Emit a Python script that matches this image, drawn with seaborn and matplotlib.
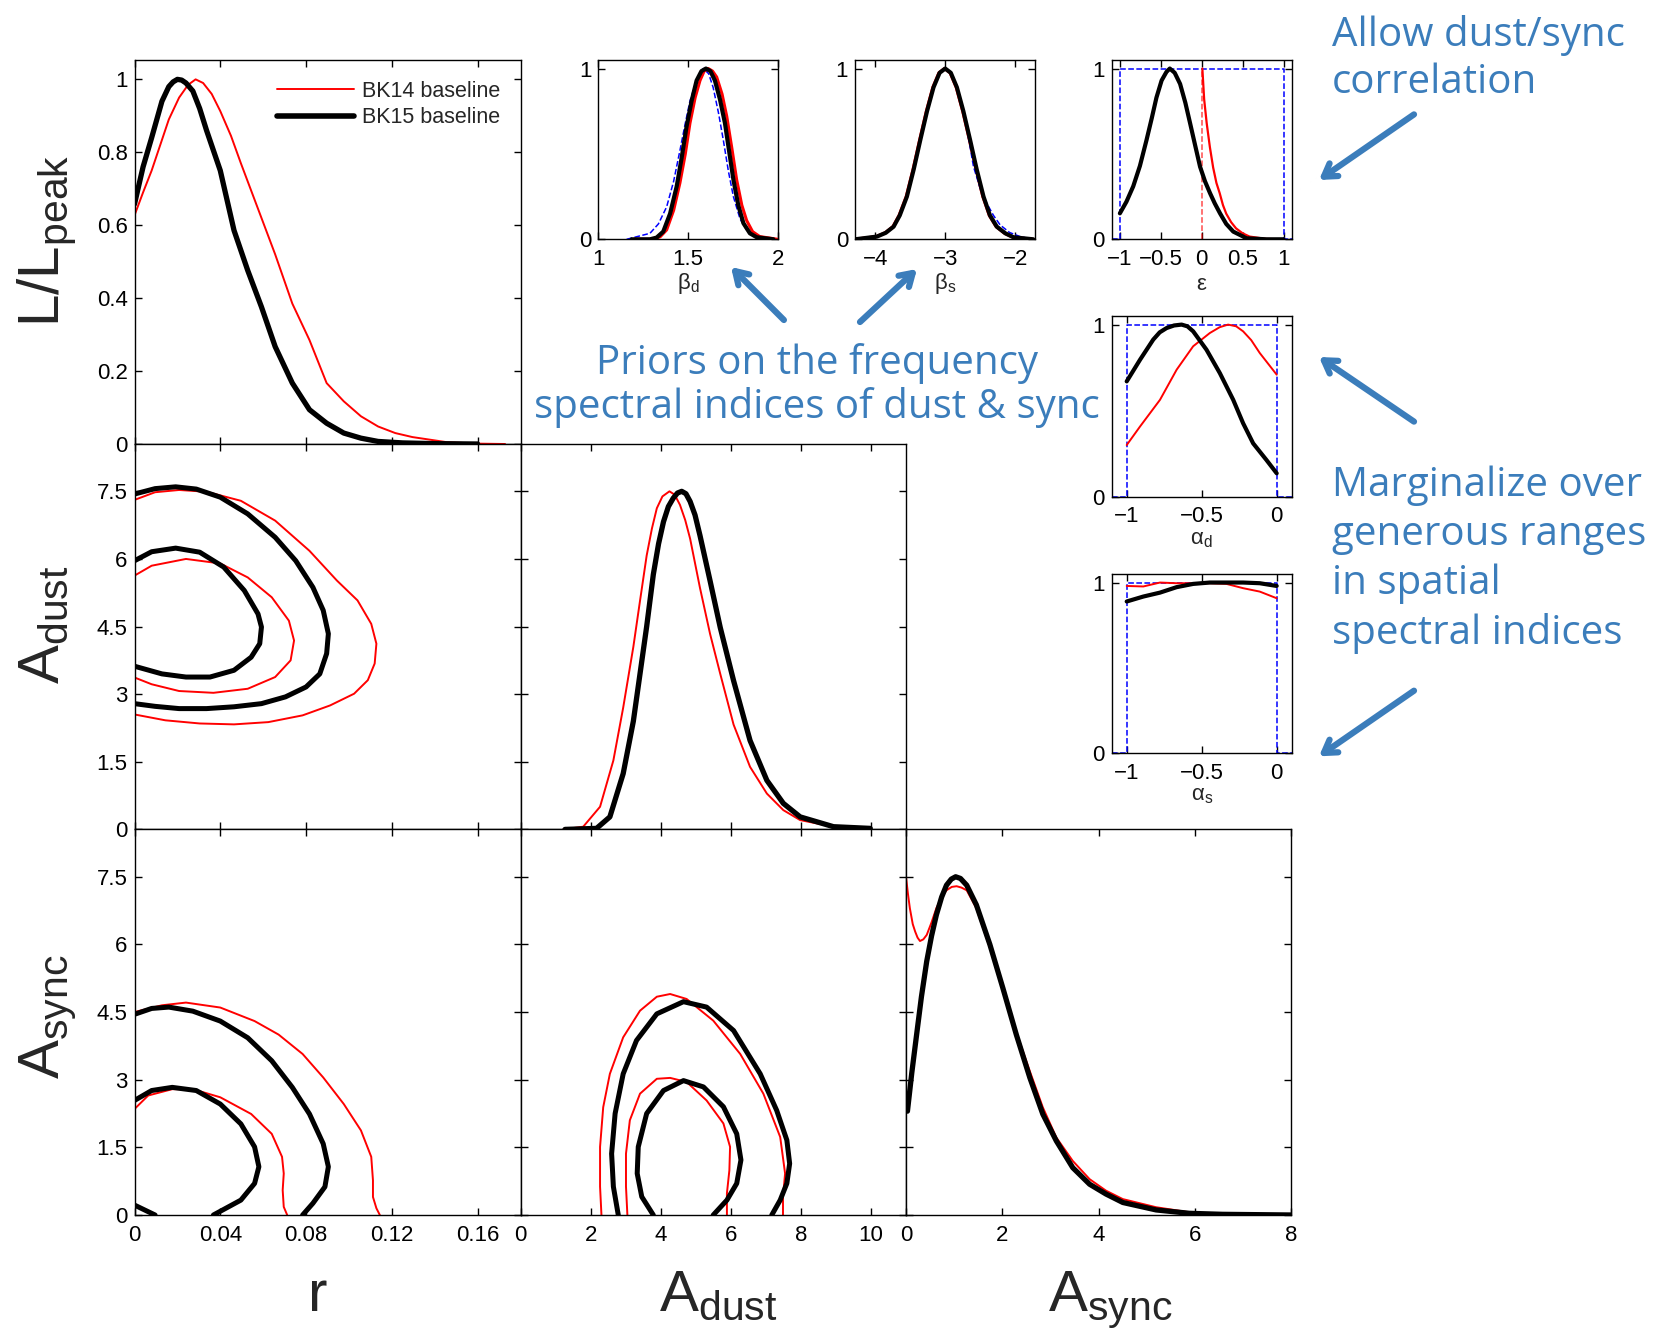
import matplotlib
matplotlib.use("Agg")
import matplotlib.pyplot as plt
from matplotlib.lines import Line2D
import seaborn as sns

W, H = 1661, 1332

# ---------------- data ----------------
# 1D likelihood of r (normalised to peak)
r_bk14 = [0, 0.004, 0.008, 0.012, 0.016, 0.0208, 0.025, 0.0285, 0.032, 0.036, 0.04, 0.045,
          0.0496, 0.0544, 0.0592, 0.0656, 0.0736, 0.0816, 0.0896, 0.0976, 0.1056, 0.1136,
          0.1216, 0.1296, 0.1456, 0.16, 0.1728]
L_r_bk14 = [0.627, 0.69, 0.75, 0.82, 0.89, 0.95, 0.985, 1.0, 0.99, 0.96, 0.913, 0.845,
            0.77, 0.695, 0.62, 0.52, 0.385, 0.285, 0.167, 0.117, 0.076, 0.048,
            0.03, 0.019, 0.005, 0.001, 0.0]
r_bk15 = [0, 0.004, 0.008, 0.0128, 0.016, 0.018, 0.02, 0.022, 0.024, 0.0272, 0.0304, 0.0336,
          0.04, 0.0464, 0.0528, 0.0592, 0.0656, 0.0736, 0.0816, 0.0896, 0.0976, 0.1056, 0.1136,
          0.125, 0.14, 0.16]
L_r_bk15 = [0.658, 0.76, 0.84, 0.94, 0.98, 0.993, 1.0, 0.998, 0.99, 0.968, 0.92, 0.86,
            0.75, 0.586, 0.476, 0.376, 0.267, 0.167, 0.094, 0.057, 0.03, 0.016, 0.007,
            0.003, 0.001, 0.0]

# 1D likelihood of A_dust
Ad_bk14 = [1.22, 1.79, 2.27, 2.65, 2.93, 3.22, 3.41, 3.6, 3.75, 3.89, 4.05, 4.25, 4.4, 4.55,
           4.7, 4.84, 5.12, 5.41, 5.7, 6.08, 6.55, 7.03, 7.5, 7.98, 8.93, 9.98]
L_Ad_bk14 = [0, 0.008, 0.067, 0.204, 0.36, 0.54, 0.676, 0.81, 0.89, 0.95, 0.985, 1.0, 0.99,
             0.96, 0.915, 0.86, 0.715, 0.578, 0.46, 0.31, 0.185, 0.106, 0.057, 0.0275, 0.008, 0.0]
Ad_bk15 = [1.27, 2.17, 2.55, 2.93, 3.22, 3.41, 3.6, 3.79, 3.94, 4.08, 4.22, 4.36, 4.48, 4.6,
           4.72, 4.84, 4.98, 5.12, 5.41, 5.7, 6.08, 6.55, 7.03, 7.5, 7.98, 8.93, 9.98]
L_Ad_bk15 = [0, 0.003, 0.037, 0.165, 0.32, 0.46, 0.6, 0.754, 0.845, 0.91, 0.955, 0.98, 0.995,
             1.0, 0.993, 0.97, 0.93, 0.87, 0.735, 0.597, 0.44, 0.263, 0.145, 0.077, 0.037,
             0.008, 0.003]

# 1D likelihood of A_sync
As_bk14 = [0.0, 0.04, 0.08, 0.14, 0.19, 0.24, 0.29, 0.36, 0.43, 0.53, 0.63, 0.74, 0.84, 0.95,
           1.05, 1.15, 1.26, 1.46, 1.74, 2.01, 2.29, 2.57, 2.84, 3.12, 3.46, 3.81, 4.15, 4.5,
           5.19, 5.88, 6.57, 8.0]
L_As_bk14 = [1.0, 0.95, 0.907, 0.86, 0.838, 0.82, 0.81, 0.815, 0.828, 0.865, 0.907, 0.94,
             0.96, 0.97, 0.972, 0.968, 0.96, 0.907, 0.79, 0.67, 0.54, 0.425, 0.318, 0.229,
             0.16, 0.106, 0.072, 0.047, 0.023, 0.008, 0.003, 0.0]
As_bk15 = [0.03, 0.12, 0.22, 0.32, 0.43, 0.53, 0.63, 0.74, 0.84, 0.94, 1.03, 1.13, 1.26, 1.46,
           1.74, 2.01, 2.29, 2.57, 2.84, 3.12, 3.46, 3.81, 4.15, 4.5, 5.19, 5.88, 6.57, 8.0]
L_As_bk15 = [0.307, 0.42, 0.533, 0.645, 0.75, 0.825, 0.887, 0.94, 0.975, 0.993, 1.0, 0.995,
             0.975, 0.917, 0.8, 0.671, 0.533, 0.406, 0.298, 0.219, 0.14, 0.091, 0.062, 0.037,
             0.015, 0.005, 0.002, 0.0]

# 2D contours (68% / 95%), r vs A_dust
rAd_bk15_in_r = [0, 0.008, 0.0192, 0.0304, 0.0416, 0.0512, 0.0576, 0.0592, 0.0584, 0.0544, 0.0464,
                 0.0352, 0.024, 0.0128, 0]
rAd_bk15_in_A = [5.96, 6.16, 6.24, 6.15, 5.82, 5.3, 4.78, 4.49, 4.12, 3.82, 3.53, 3.38, 3.38, 3.45, 3.62]
rAd_bk15_out_r = [0, 0.0096, 0.0192, 0.0288, 0.04, 0.0528, 0.0656, 0.0752, 0.0832, 0.088, 0.0904,
                  0.0896, 0.0864, 0.08, 0.0704, 0.0592, 0.0464, 0.0336, 0.0208, 0.0096, 0]
rAd_bk15_out_A = [7.44, 7.56, 7.6, 7.55, 7.37, 7.0, 6.48, 5.96, 5.37, 4.86, 4.34, 3.9, 3.45, 3.16,
                  2.94, 2.79, 2.72, 2.68, 2.68, 2.73, 2.79]
rAd_bk14_in_r = [0, 0.008, 0.024, 0.04, 0.0528, 0.064, 0.072, 0.0744, 0.0728, 0.0656, 0.0528,
                 0.0368, 0.0208, 0.008, 0]
rAd_bk14_in_A = [5.63, 5.85, 6.0, 5.9, 5.59, 5.15, 4.63, 4.19, 3.75, 3.38, 3.12, 3.03, 3.07, 3.22, 3.37]
rAd_bk14_out_r = [0, 0.0096, 0.0208, 0.0336, 0.0496, 0.0656, 0.0816, 0.0944, 0.104, 0.1104, 0.1128,
                  0.112, 0.1088, 0.1024, 0.0912, 0.0784, 0.0624, 0.0464, 0.0304, 0.0144, 0]
rAd_bk14_out_A = [7.31, 7.48, 7.53, 7.49, 7.29, 6.85, 6.18, 5.52, 5.08, 4.56, 4.12, 3.68, 3.31, 3.01,
                  2.75, 2.53, 2.38, 2.33, 2.35, 2.42, 2.55]

# r vs A_sync
rAs_bk15_out_r = [0, 0.008, 0.016, 0.0272, 0.04, 0.0528, 0.064, 0.0736, 0.0816, 0.088, 0.0904,
                  0.0888, 0.0832, 0.0784]
rAs_bk15_out_A = [4.45, 4.58, 4.61, 4.52, 4.3, 3.93, 3.42, 2.83, 2.24, 1.58, 1.07, 0.625, 0.26, 0]
rAs_bk15_in_r = [0, 0.008, 0.0176, 0.0288, 0.04, 0.0496, 0.056, 0.058, 0.056, 0.0496, 0.0368]
rAs_bk15_in_A = [2.54, 2.76, 2.83, 2.76, 2.46, 2.02, 1.51, 1.07, 0.7, 0.33, 0]
rAs_bk15_corner_r = [0, 0.0096]
rAs_bk15_corner_A = [0.22, 0]
rAs_bk14_out_r = [0, 0.0128, 0.024, 0.04, 0.056, 0.0672, 0.0784, 0.088, 0.0976, 0.1056, 0.1104,
                  0.1112, 0.1112, 0.1128, 0.1144]
rAs_bk14_out_A = [4.5, 4.65, 4.71, 4.6, 4.3, 4.0, 3.57, 3.05, 2.46, 1.875, 1.29, 0.77, 0.4, 0.15, 0]
rAs_bk14_in_r = [0, 0.0064, 0.0176, 0.0272, 0.04, 0.0544, 0.064, 0.0688, 0.0696, 0.0691, 0.0696, 0.0712]
rAs_bk14_in_A = [2.35, 2.65, 2.79, 2.79, 2.61, 2.24, 1.8, 1.29, 0.92, 0.55, 0.18, 0]

# A_dust vs A_sync
AA_bk15_out_d = [2.79, 2.65, 2.6, 2.7, 2.93, 3.31, 3.89, 4.65, 5.31, 6.08, 6.84, 7.31, 7.6, 7.68,
                 7.6, 7.41, 7.17]
AA_bk15_out_s = [0, 0.63, 1.36, 2.25, 3.13, 3.87, 4.46, 4.73, 4.61, 4.09, 3.13, 2.32, 1.66, 1.14,
                 0.7, 0.33, 0]
AA_bk15_in_d = [3.79, 3.46, 3.33, 3.36, 3.6, 4.08, 4.65, 5.22, 5.79, 6.17, 6.29, 6.17, 5.89, 5.5]
AA_bk15_in_s = [0, 0.405, 0.92, 1.51, 2.25, 2.76, 2.98, 2.84, 2.4, 1.8, 1.22, 0.7, 0.33, 0]
AA_bk14_out_d = [2.31, 2.27, 2.27, 2.36, 2.55, 2.93, 3.41, 3.89, 4.27, 4.74, 5.5, 6.27, 6.93, 7.41,
                 7.55, 7.49, 7.49]
AA_bk14_out_s = [0, 0.63, 1.51, 2.39, 3.13, 3.94, 4.53, 4.84, 4.9, 4.79, 4.31, 3.57, 2.69, 1.73,
                 0.92, 0.405, 0]
AA_bk14_in_d = [3.05, 3.01, 3.01, 3.12, 3.41, 3.89, 4.27, 4.74, 5.31, 5.79, 5.98, 5.96, 5.89, 5.89]
AA_bk14_in_s = [0, 0.63, 1.36, 2.1, 2.69, 3.02, 3.04, 2.95, 2.54, 2.03, 1.51, 0.99, 0.48, 0]

# inset: beta_d
bd_prior_x = [1.158, 1.288, 1.335, 1.381, 1.42, 1.455, 1.485, 1.511, 1.55, 1.585, 1.615, 1.64,
              1.67, 1.697, 1.725, 1.753, 1.79, 1.827, 1.9, 1.99]
bd_prior_y = [0, 0.035, 0.09, 0.19, 0.34, 0.52, 0.68, 0.81, 0.94, 1.0, 0.97, 0.89, 0.74, 0.58,
              0.4, 0.25, 0.12, 0.055, 0.006, 0]
bd_bk14_x = [1.2, 1.307, 1.345, 1.381, 1.42, 1.455, 1.485, 1.511, 1.54, 1.567, 1.59, 1.613,
             1.637, 1.66, 1.69, 1.716, 1.745, 1.771, 1.8, 1.827, 1.86, 1.9, 2.0]
bd_bk14_y = [0, 0.0, 0.015, 0.055, 0.17, 0.33, 0.5, 0.68, 0.83, 0.93, 0.985, 1.0, 0.985, 0.95,
             0.85, 0.72, 0.53, 0.35, 0.2, 0.11, 0.045, 0.016, 0]
bd_bk15_x = [1.186, 1.288, 1.325, 1.362, 1.4, 1.437, 1.465, 1.492, 1.52, 1.548, 1.575, 1.6,
             1.625, 1.65, 1.678, 1.706, 1.73, 1.753, 1.78, 1.809, 1.845, 1.883, 1.976]
bd_bk15_y = [0, 0, 0.01, 0.045, 0.15, 0.31, 0.48, 0.66, 0.81, 0.93, 0.985, 1.0, 0.985, 0.93,
             0.82, 0.68, 0.51, 0.35, 0.2, 0.094, 0.035, 0.012, 0]

# inset: beta_s
bs_prior_x = [-4.29, -3.976, -3.85, -3.738, -3.65, -3.548, -3.45, -3.357, -3.26, -3.167, -3.08,
              -3.0, -2.92, -2.833, -2.72, -2.595, -2.5, -2.405, -2.31, -2.214, -2.08, -1.93, -1.75]
bs_prior_y = [0, 0.016, 0.038, 0.074, 0.14, 0.25, 0.41, 0.58, 0.75, 0.89, 0.975, 1.0, 0.975,
              0.9, 0.72, 0.425, 0.3, 0.21, 0.14, 0.084, 0.04, 0.016, 0]
bs_bk14_x = [-4.29, -3.986, -3.86, -3.748, -3.66, -3.558, -3.46, -3.367, -3.27, -3.177, -3.09,
             -3.01, -2.93, -2.843, -2.75, -2.653, -2.56, -2.462, -2.37, -2.272, -2.15, -2.034, -1.74]
bs_bk14_y = [0, 0.016, 0.038, 0.074, 0.14, 0.25, 0.41, 0.58, 0.75, 0.89, 0.975, 1.0, 0.975,
             0.89, 0.75, 0.58, 0.41, 0.25, 0.14, 0.074, 0.035, 0.012, 0]
bs_bk15_x = [-4.29, -3.976, -3.85, -3.738, -3.65, -3.548, -3.45, -3.357, -3.26, -3.167, -3.08,
             -3.0, -2.92, -2.833, -2.74, -2.643, -2.55, -2.452, -2.36, -2.262, -2.14, -2.024, -1.74]
bs_bk15_y = [0, 0.016, 0.038, 0.074, 0.14, 0.25, 0.41, 0.58, 0.75, 0.89, 0.975, 1.0, 0.975,
             0.89, 0.75, 0.58, 0.41, 0.25, 0.14, 0.074, 0.035, 0.012, 0]

# inset: epsilon
eps_prior_x = [-1.1, -1, -1, 1, 1, 1.1]
eps_prior_y = [0, 0, 1, 1, 0, 0]
eps_bk14_prior_x = [0, 0]
eps_bk14_prior_y = [0, 1]
eps_bk14_x = [0.008, 0.03, 0.061, 0.1, 0.14, 0.18, 0.22, 0.26, 0.3, 0.36, 0.42, 0.5, 0.585,
              0.79, 1.0]
eps_bk14_y = [1.0, 0.82, 0.68, 0.54, 0.42, 0.33, 0.27, 0.2, 0.15, 0.1, 0.064, 0.035, 0.016,
              0.002, 0]
eps_bk15_x = [-1, -0.92, -0.837, -0.755, -0.675, -0.61, -0.553, -0.49, -0.431, -0.39, -0.33,
              -0.264, -0.2, -0.142, -0.08, -0.02, 0.04, 0.102, 0.16, 0.224, 0.3, 0.386, 0.549,
              0.79, 1.0]
eps_bk15_y = [0.152, 0.22, 0.31, 0.43, 0.58, 0.71, 0.83, 0.93, 0.98, 1.0, 0.975, 0.91, 0.8,
              0.68, 0.55, 0.425, 0.34, 0.27, 0.21, 0.152, 0.09, 0.045, 0.006, 0, 0]

# inset: alpha_d
alpha_prior_x = [-1.1, -1, -1, 0, 0, 0.1]
alpha_prior_y = [0, 0, 1, 1, 0, 0]
ad_bk14_x = [-1, -0.911, -0.778, -0.667, -0.557, -0.446, -0.38, -0.324, -0.27, -0.224, -0.17,
             -0.113, 0]
ad_bk14_y = [0.3, 0.408, 0.563, 0.738, 0.874, 0.951, 0.985, 1.0, 0.99, 0.961, 0.91, 0.835, 0.709]
ad_bk15_x = [-1, -0.911, -0.823, -0.78, -0.734, -0.684, -0.634, -0.595, -0.557, -0.468, -0.379,
             -0.29, -0.224, -0.157, -0.069, 0]
ad_bk15_y = [0.67, 0.796, 0.913, 0.955, 0.98, 0.995, 1.0, 0.99, 0.961, 0.854, 0.718, 0.563,
             0.427, 0.31, 0.214, 0.136]

# inset: alpha_s
as_bk14_x = [-1, -0.889, -0.778, -0.667, -0.557, -0.446, -0.335, -0.224, -0.113, 0]
as_bk14_y = [0.98, 0.977, 1.0, 0.996, 0.996, 0.996, 0.992, 0.967, 0.947, 0.908]
as_bk15_x = [-1, -0.889, -0.778, -0.667, -0.557, -0.446, -0.335, -0.224, -0.113, 0]
as_bk15_y = [0.889, 0.918, 0.941, 0.973, 0.992, 1.0, 1.0, 1.0, 0.996, 0.98]

# tick values / labels
r_ticks = [0, 0.04, 0.08, 0.12, 0.16]
r_ticklabels = ["0", "0.04", "0.08", "0.12", "0.16"]
Ad_ticks = [0, 2, 4, 6, 8, 10]
As_ticks = [0, 2, 4, 6, 8]
A_yticks = [0, 1.5, 3, 4.5, 6, 7.5]
A_yticklabels = ["0", "1.5", "3", "4.5", "6", "7.5"]
L_ticks = [0, 0.2, 0.4, 0.6, 0.8, 1]
L_ticklabels = ["0", "0.2", "0.4", "0.6", "0.8", "1"]

PEAK_2D = 7.5  # 1D curves on the A rows are drawn with peak at the 7.5 tick

# ---------------- style ----------------
sns.set_theme(style="ticks")
plt.rcParams["font.family"] = ["Liberation Sans", "DejaVu Sans"]
plt.rcParams["mathtext.fontset"] = "custom"
plt.rcParams["mathtext.rm"] = "Liberation Sans"
plt.rcParams["mathtext.it"] = "Liberation Sans:italic"
plt.rcParams["mathtext.sf"] = "Liberation Sans"
plt.rcParams["axes.linewidth"] = 1.0
plt.rcParams["axes.edgecolor"] = "black"
plt.rcParams["lines.solid_joinstyle"] = "round"
plt.rcParams["lines.solid_capstyle"] = "round"

RED = "#ff0000"
BLACK = "black"
BLUE = "#0000ff"
NOTE = "#3b7dbb"
TICK = 16

fig = plt.figure(figsize=(W / 100, H / 100), dpi=100)


def px_axes(x0, y0, x1, y1):
    return fig.add_axes([x0 / W, 1 - y1 / H, (x1 - x0) / W, (y1 - y0) / H])


def line(ax, x, y, color, lw, ls="-", alpha=1.0):
    sns.lineplot(x=x, y=y, ax=ax, color=color, linewidth=lw, linestyle=ls, alpha=alpha,
                 sort=False, estimator=None)


def style(ax, xlim, ylim, xticks, yticks, xlabels=None, ylabels=None, size=TICK):
    ax.set_xlim(xlim)
    ax.set_ylim(ylim)
    ax.set_xticks(xticks)
    ax.set_yticks(yticks)
    if xlabels is not None:
        ax.set_xticklabels(xlabels)
    if ylabels is not None:
        ax.set_yticklabels(ylabels)
    ax.tick_params(direction="in", top=True, right=True, length=5, width=1,
                   labelsize=size, colors="black",
                   labelbottom=xlabels is not None, labelleft=ylabels is not None)
    ax.tick_params(axis="x", pad=7)
    ax.tick_params(axis="y", pad=5)
    ax.set_xlabel("")
    ax.set_ylabel("")
    for s in ax.spines.values():
        s.set_visible(True)
        s.set_color("black")


cols = [(134.5, 520.5), (520.5, 906), (906, 1291.5)]
rows = [(60.4, 444), (444, 829.4), (829.4, 1215)]

# --- r 1D ---
ax = px_axes(cols[0][0], rows[0][0], cols[0][1], rows[0][1])
line(ax, r_bk14, L_r_bk14, RED, 1.4)
line(ax, r_bk15, L_r_bk15, BLACK, 3.8)
style(ax, (0, 0.18), (0, 1.052), r_ticks, L_ticks, None, L_ticklabels)
ax.set_ylabel(r"$\mathrm{L/L_{peak}}$", fontsize=42, va="baseline")
ax.yaxis.set_label_coords(-0.195, 0.53)
handles = [Line2D([], [], color=RED, lw=1.4), Line2D([], [], color=BLACK, lw=4)]
ax.legend(handles, ["BK14 baseline", "BK15 baseline"], loc="upper right", frameon=False,
          fontsize=15.5, handlelength=3.6, handletextpad=0.35, labelspacing=0.25,
          borderaxespad=0.55)

# --- r vs A_dust ---
ax = px_axes(cols[0][0], rows[1][0], cols[0][1], rows[1][1])
line(ax, rAd_bk14_out_r, rAd_bk14_out_A, RED, 1.4)
line(ax, rAd_bk14_in_r, rAd_bk14_in_A, RED, 1.4)
line(ax, rAd_bk15_out_r, rAd_bk15_out_A, BLACK, 3.6)
line(ax, rAd_bk15_in_r, rAd_bk15_in_A, BLACK, 3.6)
style(ax, (0, 0.18), (0, 8.55), r_ticks, A_yticks, None, A_yticklabels)
ax.set_ylabel(r"$\mathrm{A_{dust}}$", fontsize=42, va="baseline")
ax.yaxis.set_label_coords(-0.195, 0.53)

# --- r vs A_sync ---
ax = px_axes(cols[0][0], rows[2][0], cols[0][1], rows[2][1])
line(ax, rAs_bk14_out_r, rAs_bk14_out_A, RED, 1.4)
line(ax, rAs_bk14_in_r, rAs_bk14_in_A, RED, 1.4)
line(ax, rAs_bk15_out_r, rAs_bk15_out_A, BLACK, 3.6)
line(ax, rAs_bk15_in_r, rAs_bk15_in_A, BLACK, 3.6)
line(ax, rAs_bk15_corner_r, rAs_bk15_corner_A, BLACK, 3.6)
style(ax, (0, 0.18), (0, 8.55), r_ticks, A_yticks, r_ticklabels, A_yticklabels)
ax.set_ylabel(r"$\mathrm{A_{sync}}$", fontsize=42, va="baseline")
ax.yaxis.set_label_coords(-0.195, 0.515)
ax.set_xlabel("r", fontsize=42, va="baseline")
ax.xaxis.set_label_coords(0.476, -0.249)

# --- A_dust 1D ---
ax = px_axes(cols[1][0], rows[1][0], cols[1][1], rows[1][1])
line(ax, Ad_bk14, [v * PEAK_2D for v in L_Ad_bk14], RED, 1.4)
line(ax, Ad_bk15, [v * PEAK_2D for v in L_Ad_bk15], BLACK, 3.8)
style(ax, (0, 11), (0, 8.55), Ad_ticks, A_yticks)

# --- A_dust vs A_sync ---
ax = px_axes(cols[1][0], rows[2][0], cols[1][1], rows[2][1])
line(ax, AA_bk14_out_d, AA_bk14_out_s, RED, 1.4)
line(ax, AA_bk14_in_d, AA_bk14_in_s, RED, 1.4)
line(ax, AA_bk15_out_d, AA_bk15_out_s, BLACK, 3.6)
line(ax, AA_bk15_in_d, AA_bk15_in_s, BLACK, 3.6)
style(ax, (0, 11), (0, 8.55), Ad_ticks, A_yticks, [str(t) for t in Ad_ticks], None)
ax.set_xlabel(r"$\mathrm{A_{dust}}$", fontsize=42, va="baseline")
ax.xaxis.set_label_coords(0.513, -0.249)

# --- A_sync 1D ---
ax = px_axes(cols[2][0], rows[2][0], cols[2][1], rows[2][1])
line(ax, As_bk14, [v * PEAK_2D for v in L_As_bk14], RED, 1.4)
line(ax, As_bk15, [v * PEAK_2D for v in L_As_bk15], BLACK, 3.8)
style(ax, (0, 8), (0, 8.55), As_ticks, A_yticks, [str(t) for t in As_ticks], None)
ax.set_xlabel(r"$\mathrm{A_{sync}}$", fontsize=42, va="baseline")
ax.xaxis.set_label_coords(0.529, -0.249)

# --- insets ---
ax = px_axes(598.3, 60, 777.7, 239.3)
line(ax, bd_prior_x, bd_prior_y, BLUE, 1.1, "--")
line(ax, bd_bk14_x, bd_bk14_y, RED, 2.2)
line(ax, bd_bk15_x, bd_bk15_y, BLACK, 3.0)
style(ax, (1, 2), (0, 1.05), [1, 1.5, 2], [0, 1], ["1", "1.5", "2"], ["0", "1"])
ax.set_xlabel(r"$\mathrm{\beta_d}$", fontsize=16, labelpad=1)

ax = px_axes(855, 60, 1034.7, 239.3)
line(ax, bs_bk14_x, bs_bk14_y, RED, 2.2)
line(ax, bs_prior_x, bs_prior_y, BLUE, 1.1, "--")
line(ax, bs_bk15_x, bs_bk15_y, BLACK, 3.0)
style(ax, (-4.29, -1.72), (0, 1.05), [-4, -3, -2], [0, 1], ["\u22124", "\u22123", "\u22122"], ["0", "1"])
ax.set_xlabel(r"$\mathrm{\beta_s}$", fontsize=16, labelpad=1)

ax = px_axes(1111.7, 60, 1291.7, 239.3)
line(ax, eps_prior_x, eps_prior_y, BLUE, 1.1, "--")
line(ax, eps_bk14_prior_x, eps_bk14_prior_y, RED, 1.1, "--", 0.7)
line(ax, eps_bk14_x, eps_bk14_y, RED, 1.6)
line(ax, eps_bk15_x, eps_bk15_y, BLACK, 3.0)
style(ax, (-1.1, 1.1), (0, 1.05), [-1, -0.5, 0, 0.5, 1], [0, 1],
      ["\u22121", "\u22120.5", "0", "0.5", "1"], ["0", "1"])
ax.set_xlabel(r"$\mathrm{\epsilon}$", fontsize=16, labelpad=3)

ax = px_axes(1111.7, 316, 1291.7, 496.7)
line(ax, alpha_prior_x, alpha_prior_y, BLUE, 1.1, "--")
line(ax, ad_bk14_x, ad_bk14_y, RED, 1.4)
line(ax, ad_bk15_x, ad_bk15_y, BLACK, 3.0)
style(ax, (-1.1, 0.1), (0, 1.05), [-1, -0.5, 0], [0, 1], ["\u22121", "\u22120.5", "0"], ["0", "1"])
ax.set_xlabel(r"$\mathrm{\alpha_d}$", fontsize=16, labelpad=1)

ax = px_axes(1111.7, 574, 1291.7, 753.3)
line(ax, alpha_prior_x, alpha_prior_y, BLUE, 1.1, "--")
line(ax, as_bk14_x, as_bk14_y, RED, 1.4)
line(ax, as_bk15_x, as_bk15_y, BLACK, 3.0)
style(ax, (-1.1, 0.1), (0, 1.05), [-1, -0.5, 0], [0, 1], ["\u22121", "\u22120.5", "0"], ["0", "1"])
ax.set_xlabel(r"$\mathrm{\alpha_s}$", fontsize=16, labelpad=1)

# --- annotations (pixel overlay) ---
over = fig.add_axes([0, 0, 1, 1], zorder=10)
over.set_xlim(0, W)
over.set_ylim(H, 0)
over.axis("off")
over.patch.set_alpha(0)

note_kw = dict(color=NOTE, fontsize=29, family=["Open Sans", "DejaVu Sans"], va="baseline")
for txt, yb in [("Allow dust/sync", 45.5), ("correlation", 93)]:
    over.text(1331.5, yb, txt, ha="left", **note_kw)
for txt, yb in [("Priors on the frequency", 374), ("spectral indices of dust & sync", 418.4)]:
    over.text(817, yb, txt, ha="center", **note_kw)
for txt, yb in [("Marginalize over", 496), ("generous ranges", 545), ("in spatial", 594.5),
                ("spectral indices", 644)]:
    over.text(1331.5, yb, txt, ha="left", **note_kw)

arrow_kw = dict(arrowstyle="->,head_length=0.4,head_width=0.25", color=NOTE, lw=4.5,
                shrinkA=0, shrinkB=0, mutation_scale=22)
for (x0, y0), (x1, y1) in [((1414, 114.4), (1319, 180)),
                           ((1414, 421.6), (1319, 357)),
                           ((1414, 690.7), (1319, 756.3)),
                           ((783.9, 320), (731, 267)),
                           ((860, 322), (917, 269))]:
    over.annotate("", xy=(x1, y1), xytext=(x0, y0), arrowprops=arrow_kw)

fig.savefig("out.png", dpi=100)
